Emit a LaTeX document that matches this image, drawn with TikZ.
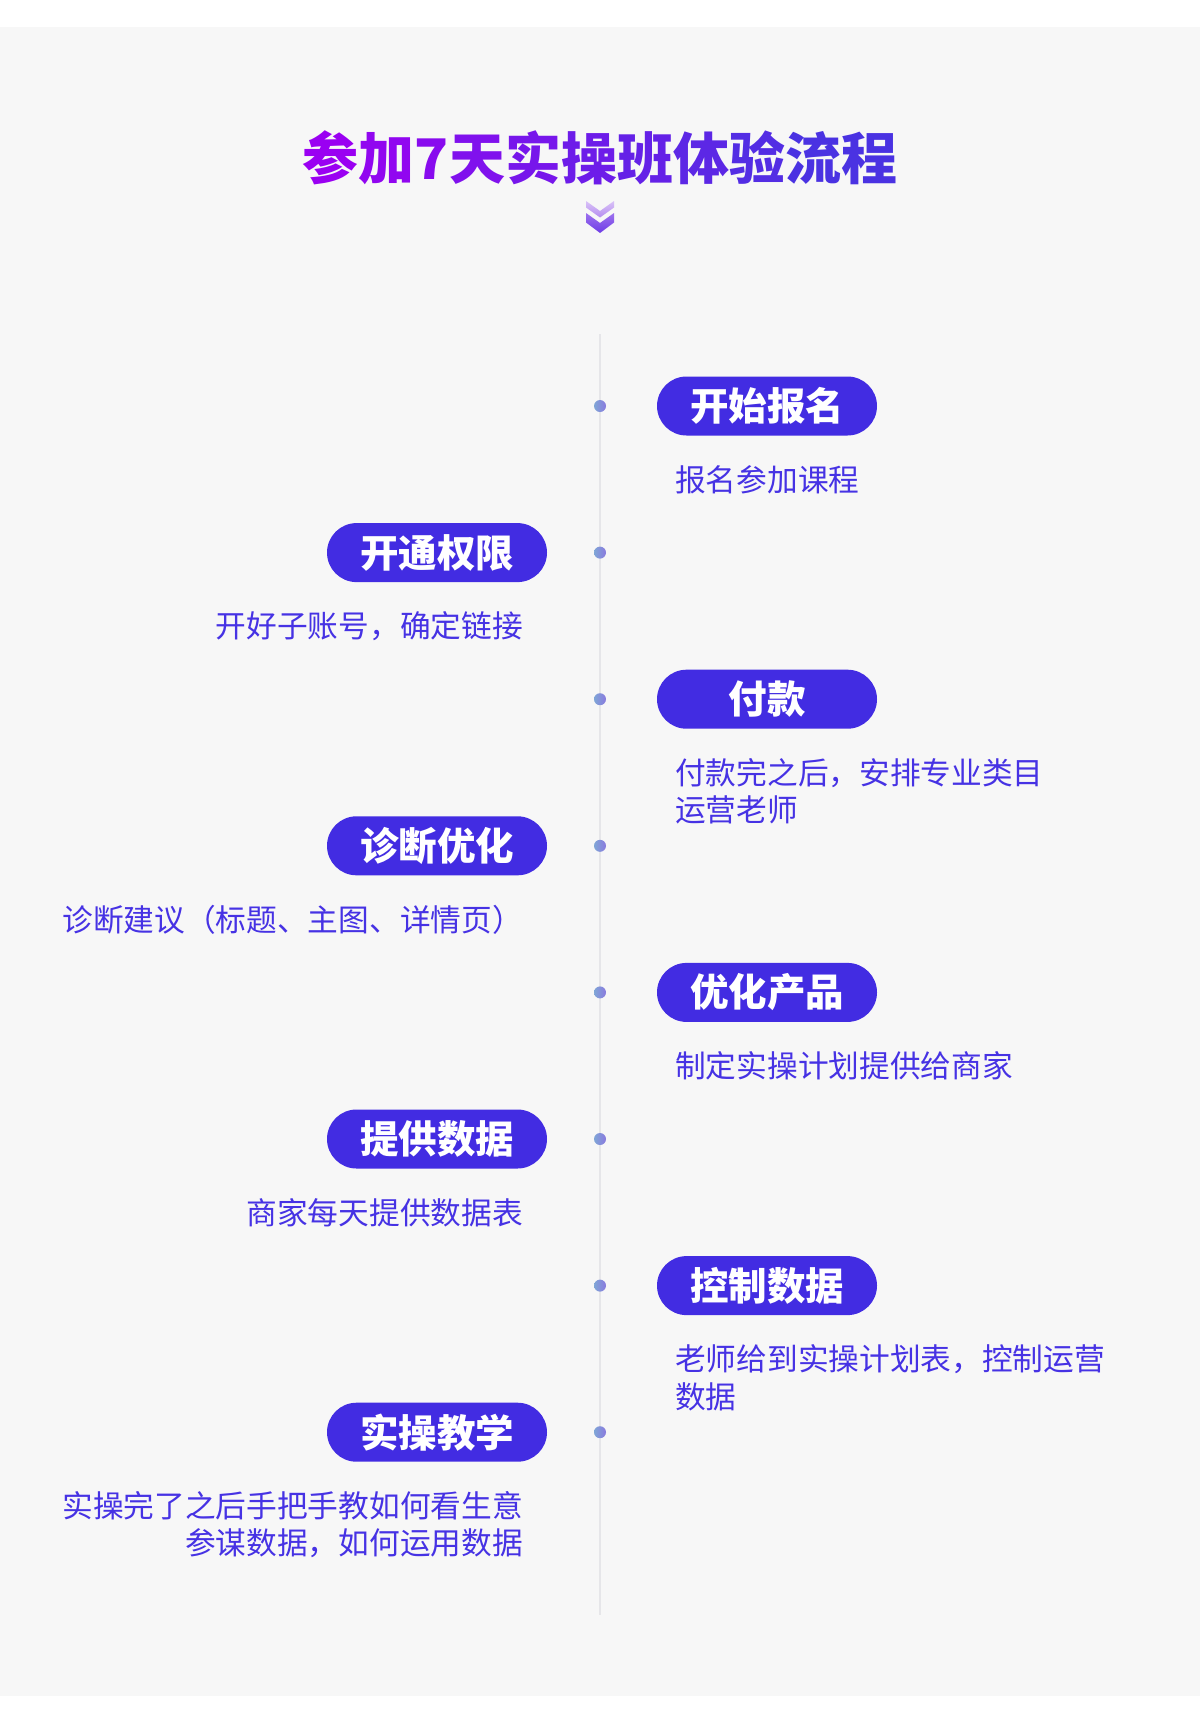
\documentclass[tikz,border=0pt]{standalone}
\usepackage{fontspec}
\setmainfont{Noto Sans CJK SC}
\newfontfamily\cjk{Noto Sans CJK SC}
\definecolor{bg}{HTML}{F7F7F7}
\definecolor{pillc}{RGB}{66,44,226}
\definecolor{descc}{RGB}{70,50,228}
\definecolor{linec}{HTML}{E6E6E9}
\definecolor{dotA}{HTML}{7FA6D6}
\definecolor{dotB}{HTML}{8A7ADF}
\definecolor{tA}{HTML}{9A00F2}
\definecolor{tB}{HTML}{4A32E2}
\definecolor{chA}{HTML}{D9C2F7}
\definecolor{chB}{HTML}{B58DF0}
\definecolor{chC}{HTML}{9D72EE}
\definecolor{chD}{HTML}{6E3CE6}
\tikzset{
  pill/.style={rectangle, rounded corners=29.5pt, fill=pillc, minimum width=220pt,
    minimum height=59pt, inner sep=0pt, text=white, font=\cjk\bfseries\fontsize{38.5}{40}\selectfont},
  dotn/.style={circle, minimum size=12pt, inner sep=0pt, left color=dotA, right color=dotB},
  descR/.style={anchor=north west, inner sep=0pt, align=left, text=descc,
    font=\cjk\fontsize{30.7}{37.5}\selectfont},
  descL/.style={anchor=north east, inner sep=0pt, align=right, text=descc,
    font=\cjk\fontsize{30.7}{37.5}\selectfont},
  tline/.style={draw=linec, line width=2pt}
}
\begin{document}
\begin{tikzpicture}[x=1pt,y=-1pt]
\useasboundingbox (0,0) rectangle (1200,1716);
\fill[white] (0,0) rectangle (1200,1716);
\fill[bg] (0,27) rectangle (1200,1696);
% title
\node[inner sep=0pt, font=\cjk\bfseries\fontsize{56}{60}\selectfont] (title) at (600,158)
 {\textcolor{tA}{参}\textcolor{tA!89!tB}{加}\textcolor{tA!78!tB}{7}\textcolor{tA!67!tB}{天}\textcolor{tA!56!tB}{实}\textcolor{tA!44!tB}{操}\textcolor{tA!33!tB}{班}\textcolor{tA!22!tB}{体}\textcolor{tA!11!tB}{验}\textcolor{tB}{流程}};
% chevrons
\shade[top color=chA, bottom color=chB] (586,201) -- (600,211) -- (614,201) -- (614,207.5) -- (600,217.5) -- (586,207.5) -- cycle;
\shade[top color=chC, bottom color=chD] (586,213) -- (600,223) -- (614,213) -- (614,222.5) -- (600,233) -- (586,222.5) -- cycle;
% timeline
\coordinate (ltop) at (600,334);
\coordinate (lbot) at (600,1615);
\draw[tline] (ltop) -- (lbot);
% dots
\node[dotn] (d0) at (600,406) {};
\node[dotn] (d1) at (600,552.6) {};
\node[dotn] (d2) at (600,699.2) {};
\node[dotn] (d3) at (600,845.8) {};
\node[dotn] (d4) at (600,992.4) {};
\node[dotn] (d5) at (600,1139) {};
\node[dotn] (d6) at (600,1285.6) {};
\node[dotn] (d7) at (600,1432.2) {};
% steps
\node[pill] (p0) at (767,406) {开始报名};
\node[descR] (t0) at (675,465) {报名参加课程};
\node[pill] (p1) at (437,552.6) {开通权限};
\node[descL] (t1) at (523,611.6) {开好子账号，确定链接};
\node[pill] (p2) at (767,699.2) {付款};
\node[descR] (t2) at (675,758.2) {付款完之后，安排专业类目\\运营老师};
\node[pill] (p3) at (437,845.8) {诊断优化};
\node[descL] (t3) at (523,904.8) {诊断建议（标题、主图、详情页）};
\node[pill] (p4) at (767,992.4) {优化产品};
\node[descR] (t4) at (675,1051.4) {制定实操计划提供给商家};
\node[pill] (p5) at (437,1139) {提供数据};
\node[descL] (t5) at (523,1198) {商家每天提供数据表};
\node[pill] (p6) at (767,1285.6) {控制数据};
\node[descR] (t6) at (675,1344.6) {老师给到实操计划表，控制运营\\数据};
\node[pill] (p7) at (437,1432.2) {实操教学};
\node[descL] (t7) at (523,1491.2) {实操完了之后手把手教如何看生意\\参谋数据，如何运用数据};
\end{tikzpicture}
\end{document}
